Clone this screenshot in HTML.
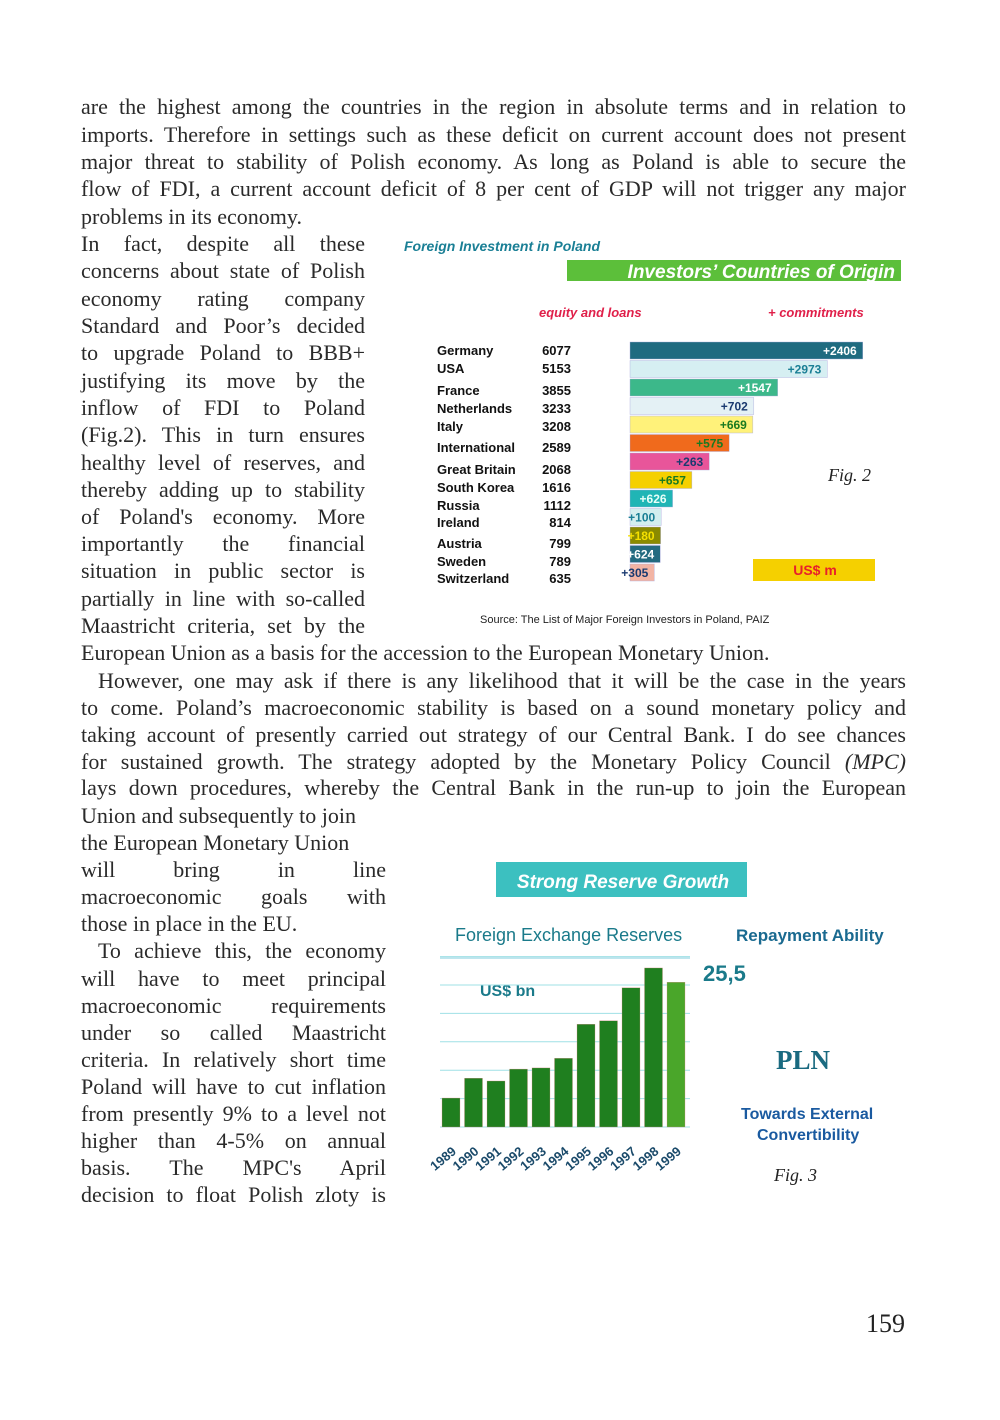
<!DOCTYPE html>
<html><head><meta charset="utf-8"><style>
body{margin:0;background:#fff;width:1000px;height:1420px;position:relative;overflow:hidden}
.l{position:absolute;font-family:"Liberation Serif",serif;font-size:22px;line-height:27px;height:27px;color:#2a2a2a;text-align:justify;text-align-last:justify;white-space:nowrap;overflow:visible}
.l.n{text-align-last:left}
.f{left:81px;width:825px}
.c1{left:81px;width:284px}
.c2{left:81px;width:305px}
svg text{font-family:"Liberation Sans",sans-serif}
svg text.serif{font-family:"Liberation Serif",serif}
</style></head><body>
<div id="text"></div>
<svg width="1000" height="1420" style="position:absolute;left:0;top:0" id="svg">
<g id="c1">
<text x="404" y="251" font-size="14" font-weight="bold" font-style="italic" fill="#1a7f95">Foreign Investment in Poland</text>
<rect x="567" y="260" width="334" height="21" fill="#5cbf3a"/>
<text x="895" y="278" font-size="19" font-weight="bold" font-style="italic" fill="#fff" text-anchor="end">Investors’ Countries of Origin</text>
<text x="539" y="317" font-size="13" font-weight="bold" font-style="italic" fill="#e0204a">equity  and loans</text>
<text x="768" y="317" font-size="13" font-weight="bold" font-style="italic" fill="#e0204a">+ commitments</text>
<text class="serif" x="828" y="481" font-size="18" font-style="italic" fill="#222">Fig. 2</text>
<rect x="753" y="559" width="122" height="22" fill="#f5d000"/>
<text x="815" y="575" font-size="14" font-weight="bold" fill="#e8202a" text-anchor="middle">US$ m</text>
<text x="480" y="623" font-size="11" fill="#222">Source:  The List of Major Foreign Investors in Poland, PAIZ</text>
</g>
<g id="c2">
<rect x="496" y="862" width="251" height="35" fill="#3cc0c0"/>
<text x="623" y="888" font-size="19" font-weight="bold" font-style="italic" fill="#fff" text-anchor="middle">Strong Reserve Growth</text>
<text x="455" y="941" font-size="18" fill="#1a7a8a">Foreign Exchange Reserves</text>
<line x1="440" y1="958" x2="690" y2="958" stroke="#bfe6ee" stroke-width="2"/>
<text x="736" y="941" font-size="17" font-weight="bold" fill="#1a6a90">Repayment Ability</text>
<text x="703" y="981" font-size="22" font-weight="bold" fill="#1a7a8a">25,5</text>
<text x="480" y="996" font-size="16" font-weight="bold" fill="#1a7a8a">US$ bn</text>
<text class="serif" x="776" y="1069" font-size="27" font-weight="bold" fill="#1a6a80">PLN</text>
<text x="741" y="1119" font-size="16" font-weight="bold" fill="#1a5aa0">Towards External</text>
<text x="757" y="1140" font-size="16" font-weight="bold" fill="#1a5aa0">Convertibility</text>
<text class="serif" x="774" y="1181" font-size="18" font-style="italic" fill="#222">Fig. 3</text>
</g>
<text class="serif" x="866" y="1332" font-size="26" fill="#222">159</text>
</svg>
<script>
const countries=["Germany","USA","France","Netherlands","Italy","International","Great Britain","South Korea","Russia","Ireland","Austria","Sweden","Switzerland"];
const equity=[6077,5153,3855,3233,3208,2589,2068,1616,1112,814,799,789,635];
const commitments=[2406,2973,1547,702,669,575,263,657,626,100,180,624,305];
const years=["1989","1990","1991","1992","1993","1994","1995","1996","1997","1998","1999"];
const reserves=[5.1,8.6,8.1,10.2,10.4,12.1,18.1,18.7,24.5,28.0,25.5];

const NS="http://www.w3.org/2000/svg";
function mk(tag,attrs,parent,txt){const e=document.createElementNS(NS,tag);for(const k in attrs)e.setAttribute(k,attrs[k]);if(txt!==undefined)e.textContent=txt;parent.appendChild(e);return e;}

// Chart 1
const c1=document.getElementById('c1');
const xs1=v=>630+v*0.0383;
const rowY=i=>342+i*18.5;
const labelY=[350,368,390,408,426,447,469,487,505,522,543,561,578];
const barCol=["#1f6b80","#d6eff2","#3cb88a","#e4f1f5","#fff27a","#f06a1c","#e8559a","#f5d000","#20b5b5","#d3eeee","#8a8a00","#236a80","#f2b4a4"];
const txtCol=["#fff","#1a7f95","#fff","#1a3a70","#1a7a20","#1a7a20","#1a3a70","#1a7a20","#e8fff8","#1a7f95","#f5e000","#fff","#1a3a70"];
countries.forEach((c,i)=>{
  const n=mk('text',{x:437,y:labelY[i]+5,'font-size':13,'font-weight':'bold',fill:'#111'},c1,c);
  
  
  const v=mk('text',{x:571,y:labelY[i]+5,'font-size':13,'font-weight':'bold',fill:'#111','text-anchor':'end'},c1,String(equity[i]));
  
  
  const y=rowY(i);
  const b=mk('rect',{x:630,y:y,width:xs1(equity[i])-630,height:17,fill:barCol[i],stroke:'#aad',"stroke-width":0.4},c1);
  
  
  const t=mk('text',{x:xs1(equity[i])-6,y:y+13,'font-size':12,'font-weight':'bold',fill:txtCol[i],'text-anchor':'end'},c1,'+'+commitments[i]);
  
  
});

// Chart 2
const c2=document.getElementById('c2');
const base=1127,unit=28.4/5;
const ys2=v=>base-v*unit;
const xs2=i=>442+i*22.5;
for(let g=0;g<=6;g++){
  const ln=mk('line',{x1:440,x2:690,y1:ys2(g*5),y2:ys2(g*5),stroke:'#9fe0e6','stroke-width':1},c2);
  
  
}
years.forEach((yr,i)=>{
  const b=mk('rect',{x:xs2(i),y:ys2(reserves[i]),width:18,height:base-ys2(reserves[i]),fill:i==10?'#4aa62a':'#1f7f1f',stroke:'#d88',"stroke-width":0.3},c2);
  
  
  const cx=xs2(i)+4,cy=1162;
  const t=mk('text',{x:cx,y:cy,'font-size':13,'font-weight':'bold',fill:'#1a4a6a','text-anchor':'middle',transform:`rotate(-40 ${cx} ${cy})`},c2,yr);
  
  
});

// Body text
const lines=[
["f",107,"are the highest among the countries in the region in absolute terms and in relation to"],
["f",135,"imports. Therefore in settings such as these deficit on current account does not present"],
["f",162,"major threat to stability of Polish economy. As long as Poland is able to secure the"],
["f",189,"flow of FDI, a current account deficit of 8 per cent of GDP will not trigger any major"],
["f n",217,"problems in its economy."],
["c1",244,"In fact, despite all these"],
["c1",271,"concerns about state of Polish"],
["c1",299,"economy rating company"],
["c1",326,"Standard and Poor’s decided"],
["c1",353,"to upgrade Poland to BBB+"],
["c1",381,"justifying its move by the"],
["c1",408,"inflow of FDI to Poland"],
["c1",435,"(Fig.2). This in turn ensures"],
["c1",463,"healthy level of reserves, and"],
["c1",490,"thereby adding up to stability"],
["c1",517,"of Poland's economy. More"],
["c1",544,"importantly the financial"],
["c1",571,"situation in public sector is"],
["c1",599,"partially in line with so-called"],
["c1",626,"Maastricht criteria, set by the"],
["f n",653,"European Union as a basis for the accession to the European Monetary Union."],
["f i",681,"However, one may ask if there is any likelihood that it will be the case in the years"],
["f",708,"to come. Poland’s macroeconomic stability is based on a sound monetary policy and"],
["f",735,"taking account of presently carried out strategy of our Central Bank. I do see chances"],
["f",762,"for sustained growth. The strategy adopted by the Monetary Policy Council <i>(MPC)</i>"],
["f",788,"lays down procedures, whereby the Central Bank in the run-up to join the European"],
["c2 n",816,"Union and subsequently to join"],
["c2 n",843,"the European Monetary Union"],
["c2",870,"will bring in line"],
["c2",897,"macroeconomic goals with"],
["c2 n",924,"those in place in the EU."],
["c2 i",951,"To achieve this, the economy"],
["c2",979,"will have to meet principal"],
["c2",1006,"macroeconomic requirements"],
["c2",1033,"under so called Maastricht"],
["c2",1060,"criteria. In relatively short time"],
["c2",1087,"Poland will have to cut inflation"],
["c2",1114,"from presently 9% to a level not"],
["c2",1141,"higher than 4-5% on annual"],
["c2",1168,"basis. The MPC's April"],
["c2",1195,"decision to float Polish zloty is"]
];
const tc=document.getElementById('text');
lines.forEach(([cls,y,s])=>{
  const d=document.createElement('div');
  d.className='l '+cls;
  d.style.top=(y-14)+'px';
  if(cls.includes('i')){d.style.left='98px';d.style.width=(cls.includes('c2')?288:808)+'px';}
  d.innerHTML=s;
  
  
  tc.appendChild(d);
});
</script>
</body></html>
